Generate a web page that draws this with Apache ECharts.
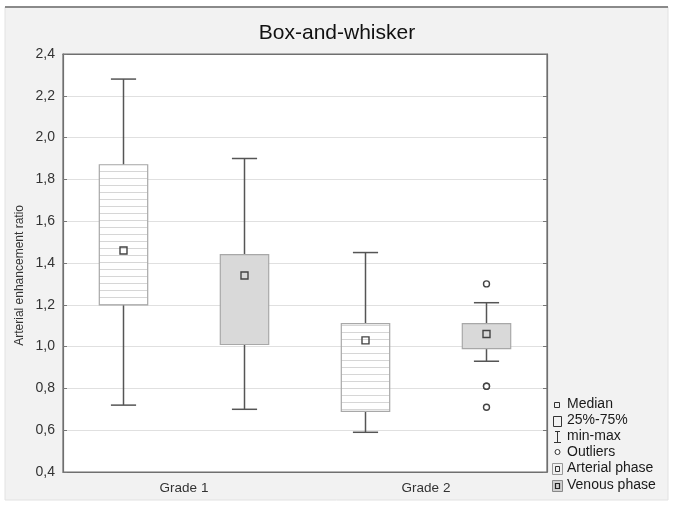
<!DOCTYPE html>
<html>
<head>
<meta charset="utf-8">
<script src="https://cdn.jsdelivr.net/npm/echarts@6/dist/echarts.min.js"></script>
<style>html,body{margin:0;padding:0;background:#fff;}#chart{width:674px;height:509px;}</style>
</head>
<body>
<div id="chart"></div>
<script>
// ---- data ----
const categories = ['Grade 1', 'Grade 2'];
const yTicks = [0.4, 0.6, 0.8, 1.0, 1.2, 1.4, 1.6, 1.8, 2.0, 2.2, 2.4];
const arterialMin    = [0.72, 0.59];
const arterialQ1     = [1.20, 0.69];
const arterialMedian = [1.46, 1.03];
const arterialQ3     = [1.87, 1.11];
const arterialMax    = [2.28, 1.45];
const venousMin      = [0.70, 0.93];
const venousQ1       = [1.01, 0.99];
const venousMedian   = [1.34, 1.06];
const venousQ3       = [1.44, 1.11];
const venousMax      = [1.90, 1.21];
const venousOutlierCat = [1, 1, 1, 1];
const venousOutlierVal = [1.30, 0.81, 0.81, 0.71];

const FONT = '"Liberation Sans", Arial, sans-serif';

// stripe pattern for arterial boxes
const pc = document.createElement('canvas');
pc.width = 4; pc.height = 7;
const pctx = pc.getContext('2d');
pctx.fillStyle = '#ffffff'; pctx.fillRect(0, 0, 4, 7);
pctx.fillStyle = '#d6d6d6'; pctx.fillRect(0, 3, 4, 1);
const stripePattern = { image: pc, repeat: 'repeat' };

function buildBoxData(mins, q1s, meds, q3s, maxs) {
  return categories.map((c, i) => [i, mins[i], q1s[i], meds[i], q3s[i], maxs[i]]);
}

function makeBoxRenderer(offsetFrac, fill) {
  return function (params, api) {
    const cat = api.value(0);
    const band = api.size([1, 0])[0];
    const cx = api.coord([cat, 1])[0] + offsetFrac * band;
    const yMin = api.coord([cat, api.value(1)])[1];
    const yQ1 = api.coord([cat, api.value(2)])[1];
    const yMed = api.coord([cat, api.value(3)])[1];
    const yQ3 = api.coord([cat, api.value(4)])[1];
    const yMax = api.coord([cat, api.value(5)])[1];
    const bw = band * 0.2;
    const cw = band * 0.104;
    const ws = { stroke: '#555', lineWidth: 1.5 };
    return {
      type: 'group',
      children: [
        { type: 'line', shape: { x1: cx, y1: yMax, x2: cx, y2: yQ3 }, style: ws },
        { type: 'line', shape: { x1: cx, y1: yQ1, x2: cx, y2: yMin }, style: ws },
        { type: 'line', shape: { x1: cx - cw / 2, y1: yMax, x2: cx + cw / 2, y2: yMax }, style: ws },
        { type: 'line', shape: { x1: cx - cw / 2, y1: yMin, x2: cx + cw / 2, y2: yMin }, style: ws },
        { type: 'rect', shape: { x: cx - bw / 2, y: yQ3, width: bw, height: yQ1 - yQ3 },
          style: { fill: fill, stroke: '#a8a8a8', lineWidth: 1.2 } },
        { type: 'rect', shape: { x: cx - 3.5, y: yMed - 3.5, width: 7, height: 7 },
          style: { fill: 'none', stroke: '#444', lineWidth: 1.4 } }
      ]
    };
  };
}

function makeOutlierRenderer(offsetFrac) {
  return function (params, api) {
    const cat = api.value(0);
    const band = api.size([1, 0])[0];
    const p = api.coord([cat, api.value(1)]);
    return { type: 'circle', shape: { cx: p[0] + offsetFrac * band, cy: p[1], r: 3 },
      style: { fill: '#fff', stroke: '#444', lineWidth: 1.4 } };
  };
}

const legendTextStyle = (y, t) => ({ type: 'text', left: 567, top: y - 8,
  style: { text: t, font: '14px ' + FONT, fill: '#1a1a1a' } });

const chart = echarts.init(document.getElementById('chart'));
chart.setOption({
  backgroundColor: '#ffffff',
  animation: false,
  title: {
    text: 'Box-and-whisker', left: 'center', top: 18,
    textStyle: { fontFamily: FONT, fontSize: 21, fontWeight: 'normal', color: '#111' }
  },
  grid: { left: 63, right: 127, top: 54, bottom: 37, show: true, backgroundColor: '#fff',
    borderColor: '#6f6f6f', borderWidth: 1.2 },
  xAxis: [{
    type: 'category', data: categories, boundaryGap: true,
    axisLine: { lineStyle: { color: '#6f6f6f', width: 1.2 } },
    axisTick: { inside: true, length: 4, alignWithLabel: true, interval: 0, lineStyle: { color: '#777' } },
    axisLabel: { fontFamily: FONT, fontSize: 13.5, color: '#333', margin: 9 },
    splitLine: { show: false }
  }, {
    type: 'category', data: categories, position: 'top', boundaryGap: true,
    axisLine: { lineStyle: { color: '#6f6f6f', width: 1.2 } },
    axisTick: { inside: true, length: 4, alignWithLabel: true, interval: 0, lineStyle: { color: '#777' } },
    axisLabel: { show: false }
  }],
  yAxis: [{
    type: 'value', min: yTicks[0], max: yTicks[yTicks.length - 1], interval: 0.2,
    axisLine: { show: true, lineStyle: { color: '#6f6f6f', width: 1.2 } },
    axisTick: { show: true, inside: true, length: 4, lineStyle: { color: '#777' } },
    axisLabel: { fontFamily: FONT, fontSize: 14, color: '#333', margin: 8,
      formatter: v => v.toFixed(1).replace('.', ',') },
    splitLine: { show: true, lineStyle: { color: '#e0e0e0', width: 1 } }
  }, {
    type: 'value', position: 'right', min: yTicks[0], max: yTicks[yTicks.length - 1], interval: 0.2,
    axisLine: { show: true, lineStyle: { color: '#6f6f6f', width: 1.2 } },
    axisTick: { show: true, inside: true, length: 4, lineStyle: { color: '#777' } },
    axisLabel: { show: false }, splitLine: { show: false }
  }],
  graphic: [
    { type: 'rect', z: -10, shape: { x: 5, y: 7, width: 663, height: 493 },
      style: { fill: '#f2f2f2', stroke: '#e2e2e2', lineWidth: 1 } },
    { type: 'line', z: -9, shape: { x1: 5, y1: 7, x2: 668, y2: 7 }, style: { stroke: '#8a8a8a', lineWidth: 2 } },
    { type: 'text', left: 14, top: 205, rotation: Math.PI / 2,
      style: { text: 'Arterial enhancement ratio', font: '12px ' + FONT, fill: '#333' } },
    // legend
    { type: 'rect', shape: { x: 554.5, y: 402.5, width: 5, height: 5 }, style: { fill: 'none', stroke: '#333', lineWidth: 1 } },
    legendTextStyle(405, 'Median'),
    { type: 'rect', shape: { x: 553.5, y: 416.5, width: 8, height: 10 }, style: { fill: 'none', stroke: '#333', lineWidth: 1 } },
    legendTextStyle(421, '25%-75%'),
    { type: 'line', shape: { x1: 557.5, y1: 431, x2: 557.5, y2: 443 }, style: { stroke: '#333', lineWidth: 1 } },
    { type: 'line', shape: { x1: 555, y1: 431.5, x2: 560, y2: 431.5 }, style: { stroke: '#333', lineWidth: 1 } },
    { type: 'line', shape: { x1: 554, y1: 442.5, x2: 561, y2: 442.5 }, style: { stroke: '#333', lineWidth: 1 } },
    legendTextStyle(437, 'min-max'),
    { type: 'circle', shape: { cx: 557.5, cy: 452, r: 2.5 }, style: { fill: '#fff', stroke: '#333', lineWidth: 1 } },
    legendTextStyle(453, 'Outliers'),
    { type: 'rect', shape: { x: 552.5, y: 463.5, width: 10, height: 11 }, style: { fill: '#f0f0f0', stroke: '#999', lineWidth: 1 } },
    { type: 'rect', shape: { x: 555.5, y: 466.5, width: 4, height: 5 }, style: { fill: 'none', stroke: '#333', lineWidth: 1 } },
    legendTextStyle(469, 'Arterial phase'),
    { type: 'rect', shape: { x: 552.5, y: 480.5, width: 10, height: 11 }, style: { fill: '#cfcfcf', stroke: '#888', lineWidth: 1 } },
    { type: 'rect', shape: { x: 555.5, y: 483.5, width: 4, height: 5 }, style: { fill: 'none', stroke: '#222', lineWidth: 1.2 } },
    legendTextStyle(486, 'Venous phase')
  ],
  series: [
    { type: 'custom', name: 'Arterial phase', renderItem: makeBoxRenderer(-0.25, stripePattern),
      encode: { x: 0, y: [1, 2, 3, 4, 5] },
      data: buildBoxData(arterialMin, arterialQ1, arterialMedian, arterialQ3, arterialMax) },
    { type: 'custom', name: 'Venous phase', renderItem: makeBoxRenderer(0.25, '#d9d9d9'),
      encode: { x: 0, y: [1, 2, 3, 4, 5] },
      data: buildBoxData(venousMin, venousQ1, venousMedian, venousQ3, venousMax) },
    { type: 'custom', name: 'Outliers', renderItem: makeOutlierRenderer(0.25),
      encode: { x: 0, y: 1 }, z: 5,
      data: venousOutlierCat.map((c, i) => [c, venousOutlierVal[i]]) }
  ]
});
</script>
</body>
</html>
